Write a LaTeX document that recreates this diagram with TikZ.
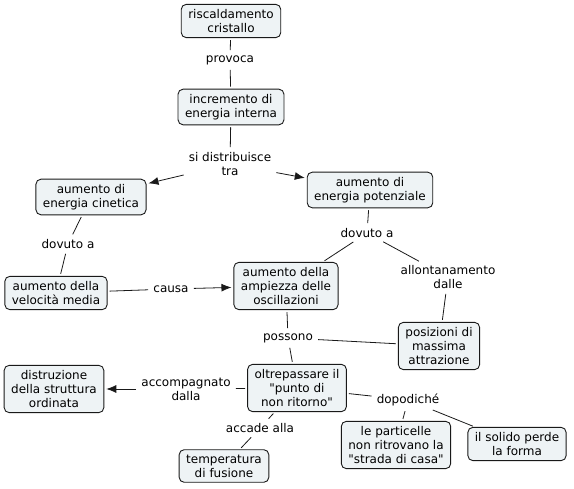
\documentclass[tikz,border=0pt]{standalone}
\usepackage{fontspec}
\setmainfont{DejaVu Sans}[Ligatures=TeXOff]
\usetikzlibrary{arrows.meta}

\definecolor{boxfill}{HTML}{EEF3F5}

\begin{document}
\begin{tikzpicture}[
    x=1pt, y=-1pt,
    every node/.style={font=\fontsize{12}{14}\selectfont},
    concept/.style={draw=black!90, fill=boxfill, rounded corners=5pt, align=center, inner xsep=7pt, inner ysep=5pt, line width=0.9pt},
    linkword/.style={align=center, inner sep=3pt},
    link/.style={draw=black!90, line width=0.8pt, shorten <=2pt, shorten >=2pt},
    arrow/.style={link, -{Latex[length=10pt,width=8pt]}}
]
\useasboundingbox (0,0) rectangle (574,489);

% concepts
\node[concept] (heat) at (231,21) {riscaldamento\\cristallo};
\node[concept] (intern) at (231,107) {incremento di\\energia interna};
\node[concept] (kin) at (91,197) {aumento di\\energia cinetica};
\node[concept] (pot) at (370,190) {aumento di\\energia potenziale};
\node[concept] (speed) at (56,293) {aumento della\\velocità media};
\node[concept] (ampl) at (286,286) {aumento della\\ampiezza delle\\oscillazioni};
\node[concept] (maxpos) at (439,346) {posizioni di\\massima\\attrazione};
\node[concept] (beyond) at (297,388) {oltrepassare il\\"punto di\\non ritorno"};
\node[concept] (destroy) at (54,389) {distruzione\\della struttura\\ordinata};
\node[concept] (melt) at (224,466) {temperatura\\di fusione};
\node[concept] (home) at (396,445) {le particelle\\non ritrovano la\\"strada di casa"};
\node[concept] (shape) at (517,444) {il solido perde\\la forma};

% linking words
\node[linkword] (provoca) at (230,60) {provoca};
\node[linkword] (distr) at (230,164) {si distribuisce\\tra};
\node[linkword] (dueL) at (68,244) {dovuto a};
\node[linkword] (dueR) at (367,233) {dovuto a};
\node[linkword] (away) at (448,277) {allontanamento\\dalle};
\node[linkword] (causa) at (171,289) {causa};
\node[linkword] (possono) at (288,338) {possono};
\node[linkword] (accomp) at (186,389) {accompagnato\\dalla};
\node[linkword] (accade) at (260,428) {accade alla};
\node[linkword] (dopo) at (408,400) {dopodiché};

% connectors
\draw[link] (heat) -- (provoca);
\draw[link] (provoca) -- (intern);
\draw[link] (intern) -- (distr);
\draw[arrow] (distr) -- (kin);
\draw[arrow] (distr) -- (pot);
\draw[link] (kin) -- (dueL);
\draw[link] (dueL) -- (speed);
\draw[link] (speed) -- (causa);
\draw[arrow] (causa) -- (ampl);
\draw[link] (pot) -- (dueR);
\draw[link] (dueR) -- (ampl);
\draw[link] (dueR) -- (away);
\draw[link] (away) -- (maxpos);
\draw[link] (ampl) -- (possono);
\draw[link] (possono) -- (beyond);
\draw[link] (possono) -- (maxpos);
\draw[link] (beyond) -- (accomp);
\draw[arrow] (accomp) -- (destroy);
\draw[link] (beyond) -- (accade);
\draw[link] (accade) -- (melt);
\draw[link] (beyond) -- (dopo);
\draw[link] (dopo) -- (home);
\draw[link] (dopo) -- (shape);
\end{tikzpicture}
\end{document}
